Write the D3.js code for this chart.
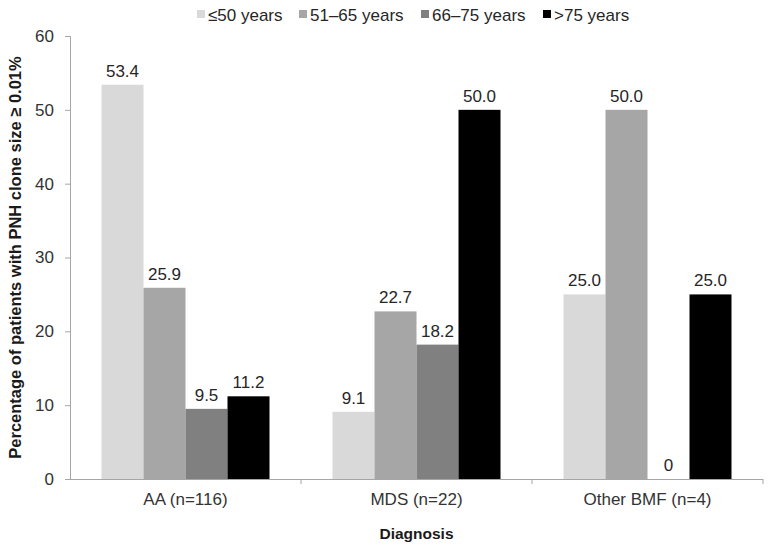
<!DOCTYPE html>
<html>
<head>
<meta charset="utf-8">
<script src="https://cdn.jsdelivr.net/npm/d3@7"></script>
<style>
  body { margin: 0; background: #fff; }
  text { font-family: "Liberation Sans", Arial, sans-serif; }
</style>
</head>
<body>
<svg width="771" height="551"></svg>
<script>
const categories = ["AA (n=116)", "MDS (n=22)", "Other BMF (n=4)"];
const series = ["≤50 years", "51–65 years", "66–75 years", ">75 years"];
const colors = ["#d9d9d9", "#a6a6a6", "#808080", "#000000"];
const values = [
  [53.4, 25.9, 9.5, 11.2],
  [9.1, 22.7, 18.2, 50.0],
  [25.0, 50.0, 0, 25.0]
];
const labels = [
  ["53.4", "25.9", "9.5", "11.2"],
  ["9.1", "22.7", "18.2", "50.0"],
  ["25.0", "50.0", "0", "25.0"]
];
const yTicks = [0, 10, 20, 30, 40, 50, 60];

const mLeft = 70, mRight = 763, mTop = 36, mBottom = 479;
const axisColor = "#a6a6a6";
const font = "Liberation Sans, Arial, sans-serif";

var svg = d3.select("svg");

var x0 = d3.scaleBand().domain(categories).range([mLeft, mRight]);
var x1 = d3.scaleBand().domain(series).range([0, x0.bandwidth()]).paddingOuter(0.75);
var y = d3.scaleLinear().domain([0, 60]).range([mBottom, mTop]);
var color = d3.scaleOrdinal().domain(series).range(colors);

// bars
categories.forEach(function(cat, i){
  var g = svg.append("g").attr("transform", "translate(" + x0(cat) + ",0)");
  series.forEach(function(s, j){
    var v = values[i][j];
    g.append("rect")
      .attr("x", x1(s))
      .attr("y", y(v))
      .attr("width", x1.bandwidth())
      .attr("height", y(0) - y(v))
      .style("fill", color(s));
    g.append("text")
      .attr("x", x1(s) + x1.bandwidth() / 2)
      .attr("y", y(v) - 8)
      .attr("text-anchor", "middle")
      .style("font-size", "17px")
      .style("fill", "#262626")
      .text(labels[i][j]);
  });
});

// y axis
var yAxis = svg.append("g")
  .attr("transform", "translate(" + mLeft + ",0)")
  .call(d3.axisLeft(y).tickValues(yTicks).tickSize(5).tickPadding(11));
yAxis.select(".domain").attr("stroke", axisColor);
yAxis.selectAll(".tick line").attr("stroke", axisColor);
yAxis.selectAll(".tick text").style("font-size", "17px").style("fill", "#333")
  .style("font-family", font);

// x axis
var xAxis = svg.append("g")
  .attr("transform", "translate(0," + mBottom + ")")
  .call(d3.axisBottom(x0).tickSize(0).tickPadding(14));
xAxis.select(".domain").attr("stroke", axisColor).attr("d", "M" + (mLeft - 5) + ",0.5H" + mRight);
xAxis.selectAll(".tick text").style("font-size", "17px").style("fill", "#333")
  .style("font-family", font);
categories.forEach(function(cat, i){
  if (i > 0) {
    svg.append("line")
      .attr("x1", x0(cat)).attr("x2", x0(cat))
      .attr("y1", mBottom).attr("y2", mBottom + 5)
      .attr("stroke", axisColor);
  }
});
svg.append("line")
  .attr("x1", mRight).attr("x2", mRight)
  .attr("y1", mBottom).attr("y2", mBottom + 5)
  .attr("stroke", axisColor);

// axis titles
svg.append("text")
  .attr("transform", "translate(21," + ((mTop + mBottom) / 2) + ") rotate(-90)")
  .attr("text-anchor", "middle")
  .style("font-size", "16.5px")
  .style("font-weight", "bold")
  .style("fill", "#1a1a1a")
  .text("Percentage of patients with PNH clone size ≥ 0.01%");

svg.append("text")
  .attr("x", (mLeft + mRight) / 2)
  .attr("y", 539)
  .attr("text-anchor", "middle")
  .style("font-size", "15.5px")
  .style("font-weight", "bold")
  .style("fill", "#1a1a1a")
  .text("Diagnosis");

// legend
var legendX = [197, 299, 421, 543];
var legend = svg.append("g");
series.forEach(function(s, j){
  var lg = legend.append("g").attr("transform", "translate(" + legendX[j] + ",14)");
  lg.append("rect").attr("x", 0).attr("y", -4).attr("width", 8).attr("height", 8).style("fill", color(s));
  lg.append("text").attr("x", 11).attr("y", 7).style("font-size", "17px").style("fill", "#262626").text(s);
});
</script>
</body>
</html>
